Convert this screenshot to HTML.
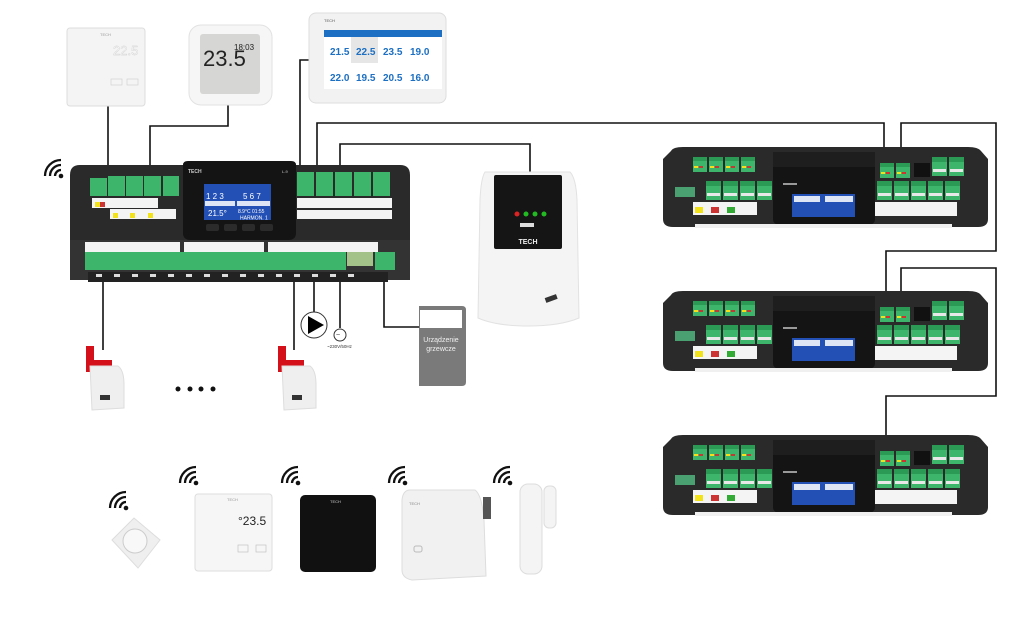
<!DOCTYPE html>
<html><head><meta charset="utf-8"><style>
html,body{margin:0;padding:0;background:#fff;width:1024px;height:618px;overflow:hidden}
svg{display:block}
text{font-family:"Liberation Sans",sans-serif}
</style></head><body>
<svg width="1024" height="618" viewBox="0 0 1024 618" xmlns="http://www.w3.org/2000/svg">
<defs>
  <g id="wifi">
    <circle cx="0" cy="0" r="2.3" fill="#111"/>
    <path d="M-6,0 A6,6 0 0 1 0,-6" fill="none" stroke="#111" stroke-width="2.3"/>
    <path d="M-11,0 A11,11 0 0 1 0,-11" fill="none" stroke="#111" stroke-width="2.3"/>
    <path d="M-16,0 A16,16 0 0 1 0,-16" fill="none" stroke="#111" stroke-width="2.3"/>
  </g>
  <g id="term14"><rect x="0" y="0" width="14" height="15" fill="#3db56a"/><rect x="0" y="0" width="14" height="4" fill="#2a9a55"/><rect x="1" y="9" width="4" height="2" fill="#f2e21c"/><rect x="6" y="9" width="4" height="2" fill="#c33"/></g>
  <g id="term15"><rect x="0" y="0" width="15" height="19" fill="#3db56a"/><rect x="0" y="0" width="15" height="5" fill="#2a9a55"/><rect x="1" y="12" width="13" height="3" fill="#e8e8e8"/></g>
  <g id="ctrl">
    <path d="M8,4 Q10,0 20,0 L305,0 Q315,0 318,4 L325,12 L325,72 Q325,80 315,80 L10,80 Q0,80 0,72 L0,12 Z" fill="#2a2a2a"/>
    <rect x="12" y="40" width="20" height="10" fill="#4aa070"/>
    <use href="#term14" x="30" y="10"/><use href="#term14" x="46" y="10"/><use href="#term14" x="62" y="10"/><use href="#term14" x="78" y="10"/>
    <use href="#term15" x="43" y="34"/><use href="#term15" x="60" y="34"/><use href="#term15" x="77" y="34"/><use href="#term15" x="94" y="34"/>
    <rect x="30" y="55" width="64" height="13" fill="#f4f4f4"/>
    <rect x="32" y="60" width="8" height="6" fill="#f2e21c"/><rect x="48" y="60" width="8" height="6" fill="#c33"/><rect x="64" y="60" width="8" height="6" fill="#3a3"/>
    <rect x="110" y="5" width="102" height="16" fill="#1e1e1e"/>
    <path d="M110,20 L212,20 L212,72 Q212,78 204,78 L118,78 Q110,78 110,72 Z" fill="#141414"/>
    <rect x="129" y="47" width="63" height="23" fill="#2350b5"/>
    <rect x="131" y="49" width="26" height="6" fill="#fff" opacity="0.85"/>
    <rect x="162" y="49" width="28" height="6" fill="#fff" opacity="0.85"/>
    <rect x="120" y="36" width="14" height="2" fill="#999"/>
    <use href="#term14" x="217" y="16"/><use href="#term14" x="233" y="16"/>
    <rect x="251" y="16" width="16" height="14" fill="#111"/>
    <use href="#term15" x="269" y="10"/><use href="#term15" x="286" y="10"/>
    <use href="#term15" x="214" y="34"/><use href="#term15" x="231" y="34"/><use href="#term15" x="248" y="34"/><use href="#term15" x="265" y="34"/><use href="#term15" x="282" y="34"/>
    <rect x="212" y="55" width="82" height="14" fill="#f4f4f4"/>
    <rect x="32" y="77" width="257" height="4" fill="#f0f0f0"/>
  </g>
</defs>

<!-- connectors -->
<g fill="none" stroke="#111" stroke-width="1.6">
  <path d="M108,100 L108,172"/>
  <path d="M228,102 L228,126 L150,126 L150,172"/>
  <path d="M312,60 L300,60 L300,172"/>
  <path d="M317,172 L317,123 L884,123 L884,165"/>
  <path d="M340,172 L340,144 L530,144 L530,172"/>
  <path d="M901,165 L901,123 L996,123 L996,251 L886,251 L886,310"/>
  <path d="M901,310 L901,268 L996,268 L996,396 L886,396 L886,455"/>
  <path d="M103,280 L103,350"/>
  <path d="M294,280 L294,350"/>
  <path d="M314,280 L314,314"/>
  <path d="M340,280 L340,328"/>
  <path d="M384,280 L384,327 L420,327"/>
</g>

<!-- top-left thermostat -->
<rect x="67" y="28" width="78" height="78" rx="3" fill="#f4f4f4" stroke="#ddd"/>
<text x="100" y="36" font-size="4" fill="#999">TECH</text>
<text x="113" y="55" font-size="13" fill="#fff" stroke="#ccc" stroke-width="0.4">22.5</text>
<rect x="111" y="79" width="11" height="6" fill="none" stroke="#ccc" stroke-width="0.6"/><rect x="127" y="79" width="11" height="6" fill="none" stroke="#ccc" stroke-width="0.6"/>

<!-- second thermostat -->
<rect x="189" y="25" width="83" height="80" rx="12" fill="#f6f6f6" stroke="#e2e2e2"/>
<rect x="200" y="34" width="60" height="60" rx="3" fill="#d6d6d4"/>
<text x="203" y="66" font-size="22" fill="#222" font-family="Liberation Mono">23.5</text>
<text x="234" y="50" font-size="8" fill="#222">18:03</text>

<!-- tablet -->
<rect x="309" y="13" width="137" height="90" rx="7" fill="#f2f2f2" stroke="#ddd"/>
<text x="324" y="22" font-size="4" fill="#555">TECH</text>
<rect x="324" y="30" width="118" height="7" fill="#1c6fc2"/>
<rect x="324" y="37" width="118" height="52" fill="#fff"/>
<rect x="351" y="37" width="27" height="26" fill="#e6e6e6"/>
<g font-size="10" font-weight="bold" fill="#1c6fc2">
<text x="330" y="55">21.5</text><text x="356" y="55">22.5</text><text x="383" y="55">23.5</text><text x="410" y="55">19.0</text>
<text x="330" y="81">22.0</text><text x="356" y="81">19.5</text><text x="383" y="81">20.5</text><text x="410" y="81">16.0</text>
</g>

<!-- main controller -->
<use href="#wifi" x="61" y="176"/>
<path d="M70,175 Q70,165 80,165 L400,165 Q410,165 410,175 L410,278 L70,278 Z" fill="#2a2a2a"/>
<rect x="70" y="240" width="340" height="40" fill="#333"/>
<g fill="#3db56a">
<rect x="90" y="178" width="17" height="18"/><rect x="108" y="176" width="17" height="20"/><rect x="126" y="176" width="17" height="20"/><rect x="144" y="176" width="17" height="20"/><rect x="163" y="176" width="16" height="20"/>
<rect x="297" y="172" width="17" height="24"/><rect x="316" y="172" width="17" height="24"/><rect x="335" y="172" width="17" height="24"/><rect x="354" y="172" width="17" height="24"/><rect x="373" y="172" width="17" height="24"/>
<rect x="85" y="252" width="175" height="18"/><rect x="246" y="252" width="100" height="18"/><rect x="375" y="252" width="20" height="18"/>
</g>
<rect x="347" y="252" width="26" height="14" fill="#a3c28a"/>
<g fill="#f4f4f4">
<rect x="92" y="198" width="66" height="10"/><rect x="110" y="209" width="66" height="10"/>
<rect x="297" y="198" width="95" height="10"/><rect x="297" y="210" width="95" height="9"/>
<rect x="85" y="242" width="95" height="10"/><rect x="184" y="242" width="80" height="10"/><rect x="268" y="242" width="110" height="10"/>
</g>
<rect x="95" y="202" width="5" height="5" fill="#f2e21c"/><rect x="100" y="202" width="5" height="5" fill="#c33"/>
<rect x="113" y="213" width="5" height="5" fill="#f2e21c"/><rect x="130" y="213" width="5" height="5" fill="#f2e21c"/><rect x="148" y="213" width="5" height="5" fill="#f2e21c"/>
<g fill="#222">
<path d="M88,272 h300 v10 h-300 z"/>
</g>
<g fill="#ddd">
<rect x="96" y="274" width="6" height="3"/><rect x="114" y="274" width="6" height="3"/><rect x="132" y="274" width="6" height="3"/><rect x="150" y="274" width="6" height="3"/><rect x="168" y="274" width="6" height="3"/><rect x="186" y="274" width="6" height="3"/><rect x="204" y="274" width="6" height="3"/><rect x="222" y="274" width="6" height="3"/><rect x="240" y="274" width="6" height="3"/><rect x="258" y="274" width="6" height="3"/><rect x="276" y="274" width="6" height="3"/><rect x="294" y="274" width="6" height="3"/><rect x="312" y="274" width="6" height="3"/><rect x="330" y="274" width="6" height="3"/><rect x="348" y="274" width="6" height="3"/>
</g>
<path d="M183,165 Q183,161 188,161 L291,161 Q296,161 296,165 L296,233 Q296,240 288,240 L191,240 Q183,240 183,233 Z" fill="#141414"/>
<text x="188" y="173" font-size="5" fill="#ccc" font-weight="bold">TECH</text>
<text x="282" y="173" font-size="4" fill="#ccc">L-9</text>
<rect x="204" y="184" width="67" height="36" fill="#2350b5"/>
<g font-size="8" fill="#fff"><text x="206" y="199">1 2 3</text><text x="243" y="199">5 6 7</text></g>
<rect x="205" y="201" width="30" height="5" fill="#fff" opacity="0.85"/><rect x="237" y="201" width="33" height="5" fill="#fff" opacity="0.85"/>
<text x="208" y="216" font-size="8" fill="#fff">21.5°</text>
<text x="238" y="213" font-size="5" fill="#fff">8.9°C 01:55</text>
<text x="240" y="219.5" font-size="5" fill="#fff">HARMON. 1</text>
<g fill="#2b2b2b"><rect x="206" y="224" width="13" height="7" rx="2"/><rect x="224" y="224" width="13" height="7" rx="2"/><rect x="242" y="224" width="13" height="7" rx="2"/><rect x="260" y="224" width="13" height="7" rx="2"/></g>

<!-- actuators -->
<g>
<rect x="86" y="346" width="8" height="26" fill="#d4101a"/><rect x="86" y="360" width="26" height="9" fill="#d4101a"/>
<path d="M90,366 L118,366 Q124,370 124,385 L124,408 L92,410 Z" fill="#efefef" stroke="#ddd"/>
<rect x="100" y="395" width="10" height="5" fill="#333"/>
</g>
<g>
<rect x="278" y="346" width="8" height="26" fill="#d4101a"/><rect x="278" y="360" width="26" height="9" fill="#d4101a"/>
<path d="M282,366 L310,366 Q316,370 316,385 L316,408 L284,410 Z" fill="#efefef" stroke="#ddd"/>
<rect x="292" y="395" width="10" height="5" fill="#333"/>
</g>
<g fill="#111"><circle cx="178" cy="389" r="2.5"/><circle cx="190" cy="389" r="2.5"/><circle cx="201" cy="389" r="2.5"/><circle cx="213" cy="389" r="2.5"/></g>

<!-- pump & power -->
<circle cx="314" cy="325" r="13" fill="#fff" stroke="#333"/>
<path d="M308,316 L324,325 L308,334 Z" fill="#000"/>
<circle cx="340" cy="335" r="6" fill="#fff" stroke="#333"/>
<text x="336" y="337" font-size="7" fill="#333">~</text>
<text x="327" y="348" font-size="4.5" fill="#333">~230V/50Hz</text>

<!-- heating device -->
<path d="M419,306 L462,306 Q466,306 466,310 L466,382 Q466,386 462,386 L419,386 Z" fill="#7a7a7a"/>
<rect x="420" y="310" width="42" height="18" fill="#fff"/>
<text x="441" y="342" font-size="7" fill="#f0f0f0" text-anchor="middle">Urządzenie</text>
<text x="441" y="351" font-size="7" fill="#f0f0f0" text-anchor="middle">grzewcze</text>

<!-- ST module -->
<path d="M485,172 L570,172 Q576,178 577,200 L579,318 Q560,326 528,326 Q496,326 478,318 L480,200 Q481,178 485,172 Z" fill="#f4f4f4" stroke="#e2e2e2"/>
<rect x="494" y="175" width="68" height="74" rx="2" fill="#151515"/>
<text x="528" y="244" font-size="7" font-weight="bold" fill="#eee" text-anchor="middle">TECH</text>
<circle cx="517" cy="214" r="2.5" fill="#d22"/><circle cx="526" cy="214" r="2.5" fill="#2b2"/><circle cx="535" cy="214" r="2.5" fill="#2b2"/><circle cx="544" cy="214" r="2.5" fill="#2b2"/>
<rect x="520" y="223" width="14" height="4" fill="#ddd"/>
<rect x="545" y="296" width="12" height="5" fill="#333" transform="rotate(-20 551 298)"/>

<!-- right controllers -->
<use href="#ctrl" x="663" y="147"/>
<use href="#ctrl" x="663" y="291"/>
<use href="#ctrl" x="663" y="435"/>

<!-- bottom devices -->
<use href="#wifi" x="126" y="508"/>
<use href="#wifi" x="196" y="483"/>
<use href="#wifi" x="298" y="483"/>
<use href="#wifi" x="405" y="483"/>
<use href="#wifi" x="510" y="483"/>

<path d="M112,540 L134,518 L160,540 L138,568 Z" fill="#efefef" stroke="#ddd"/>
<circle cx="135" cy="541" r="12" fill="#f8f8f8" stroke="#ccc"/>

<rect x="195" y="494" width="77" height="77" rx="3" fill="#f6f6f6" stroke="#ddd"/>
<text x="227" y="501" font-size="4" fill="#999">TECH</text>
<text x="238" y="525" font-size="12" fill="#222">°23.5</text>
<rect x="238" y="545" width="10" height="7" fill="none" stroke="#bbb" stroke-width="0.6"/><rect x="256" y="545" width="10" height="7" fill="none" stroke="#bbb" stroke-width="0.6"/>

<rect x="300" y="495" width="76" height="77" rx="5" fill="#111"/>
<text x="330" y="503" font-size="4" fill="#ccc">TECH</text>

<path d="M410,490 L475,490 Q482,495 484,520 L486,576 L412,580 Q402,578 402,570 L402,500 Q403,490 410,490 Z" fill="#f1f1f1" stroke="#ddd"/>
<rect x="483" y="497" width="8" height="22" fill="#555"/>
<text x="409" y="505" font-size="4" fill="#888">TECH</text>
<rect x="414" y="546" width="8" height="6" rx="2" fill="none" stroke="#bbb"/>

<rect x="520" y="484" width="22" height="90" rx="8" fill="#f4f4f4" stroke="#ddd"/>
<rect x="544" y="486" width="12" height="42" rx="5" fill="#f4f4f4" stroke="#ddd"/>
</svg>
</body></html>
